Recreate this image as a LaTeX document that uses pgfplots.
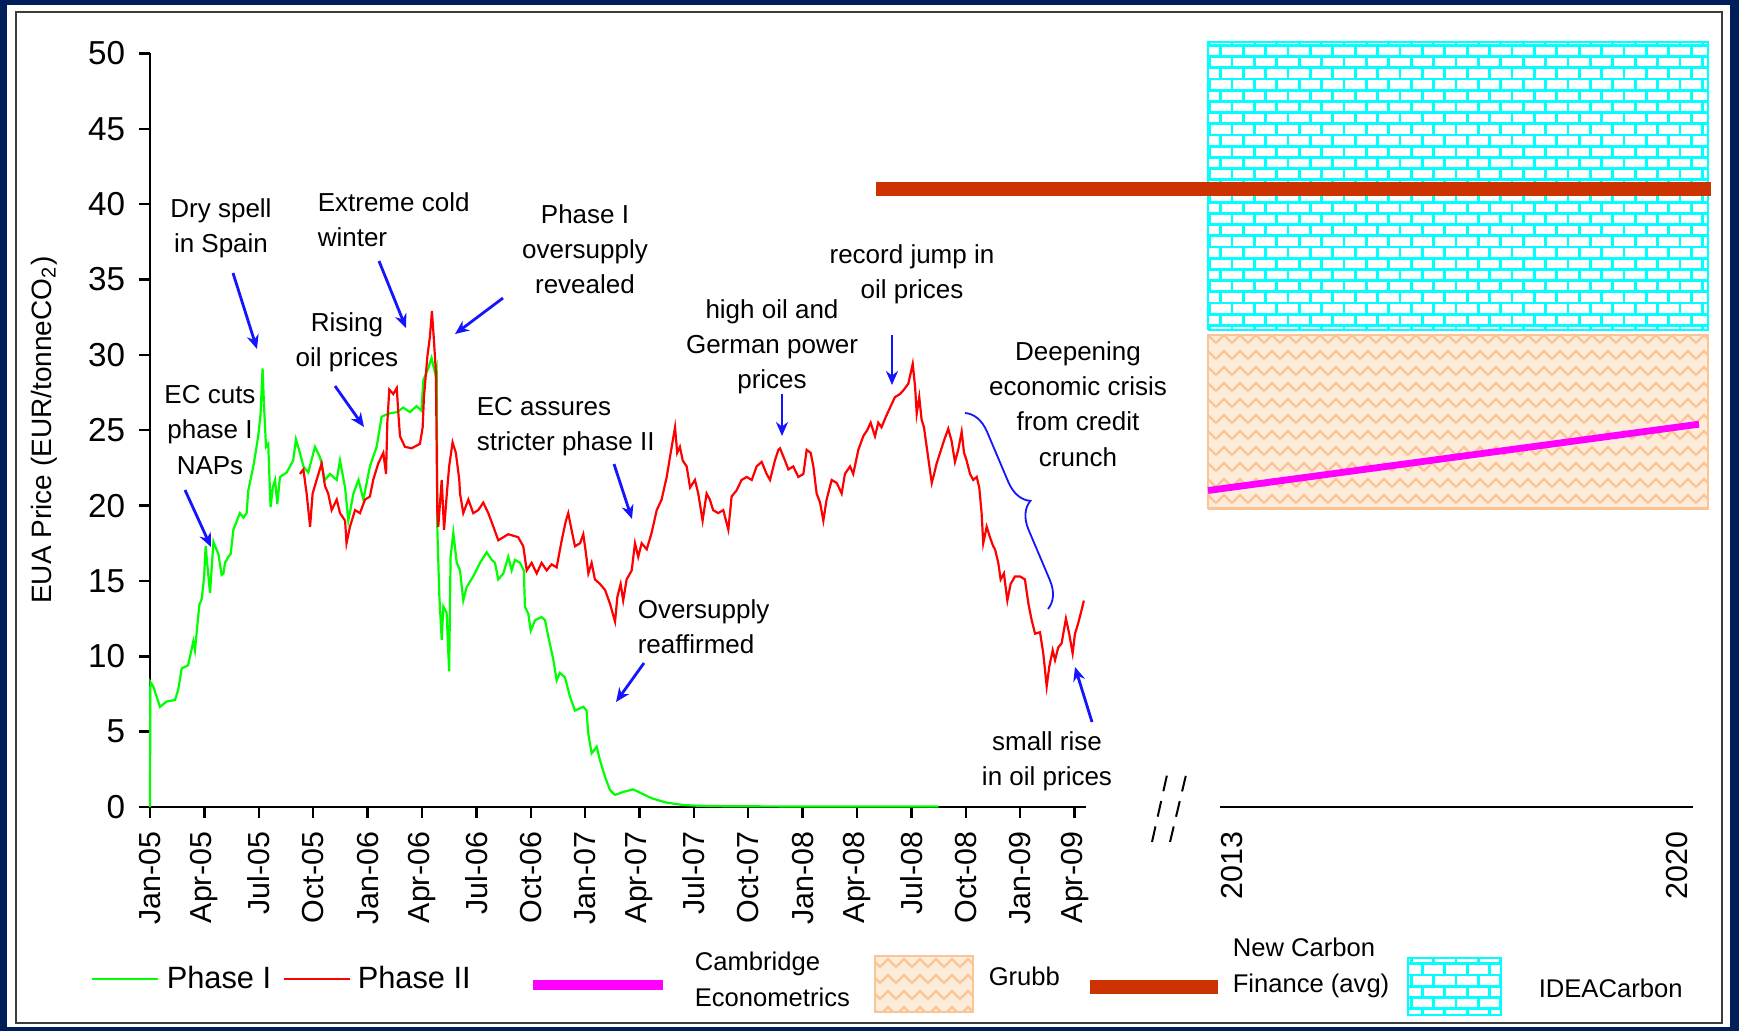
\documentclass[border=0pt]{standalone}
\usepackage{fontspec}
\setmainfont{Liberation Sans}
\usepackage{pgfplots}
\pgfplotsset{compat=1.18}
\usetikzlibrary{patterns,patterns.meta,arrows.meta,decorations.pathreplacing}

\definecolor{navy}{RGB}{0,30,90}
\definecolor{phaseI}{RGB}{0,255,0}
\definecolor{phaseII}{RGB}{255,0,0}
\definecolor{ncf}{RGB}{204,51,0}
\definecolor{annblue}{RGB}{20,20,255}
\definecolor{peachbg}{RGB}{254,236,218}
\definecolor{peachline}{RGB}{250,196,150}
\definecolor{framegray}{RGB}{60,60,60}
\definecolor{ideacyan}{RGB}{0,255,255}
\definecolor{cambmag}{RGB}{255,0,255}

\tikzdeclarepattern{
  name=ideabricks,
  type=uncolored,
  bounding box={(-0.6pt,-0.6pt) and (6.2pt,6.2pt)},
  tile size={(5.6pt,5.6pt)},
  code={
    \draw[line width=0.7pt] (-0.6pt,0pt) -- (6.2pt,0pt);
    \draw[line width=0.7pt] (-0.6pt,2.8pt) -- (6.2pt,2.8pt);
    \draw[line width=0.7pt] (0pt,0pt) -- (0pt,2.8pt);
    \draw[line width=0.7pt] (2.8pt,2.8pt) -- (2.8pt,5.6pt);
  }
}
\tikzdeclarepattern{
  name=grubbpat,
  type=uncolored,
  bounding box={(-0.5pt,-0.5pt) and (4.5pt,4.5pt)},
  tile size={(4pt,4pt)},
  code={
    \draw[line width=0.55pt] (0pt,0pt) -- (2pt,2pt) -- (4pt,0pt);
  }
}

\newcommand{\annot}{\fontsize{6.5}{8.8}\selectfont}
\newcommand{\legfont}{\fontsize{6.4}{9}\selectfont}

\begin{document}
\begin{tikzpicture}
\useasboundingbox (0pt,0pt) rectangle (434.75pt,-257.75pt);
\begin{scope}[x=0.25pt,y=-0.25pt]
  \fill[navy] (0,0) rectangle (1739,1031);
  \fill[white] (7,5) rectangle (1730,1027);
  \draw[framegray,line width=0.5pt] (16,12) rectangle (1722,1023);
\end{scope}

\begin{axis}[
  scale only axis,
  width=390.7pt, height=188.4pt,
  at={(37.5pt,-201.75pt)}, anchor=south west,
  xmin=0, xmax=86.2, ymin=0, ymax=50,
  clip=false,
  axis lines=left,
  axis line style={-, line width=0.6pt, black},
  x axis line style={draw=none},
  xtick={0,3,...,51},
  xticklabels={Jan-05,Apr-05,Jul-05,Oct-05,Jan-06,Apr-06,Jul-06,Oct-06,Jan-07,Apr-07,Jul-07,Oct-07,Jan-08,Apr-08,Jul-08,Oct-08,Jan-09,Apr-09},
  extra x ticks={59.7,84.2},
  extra x tick labels={2013,2020},
  extra x tick style={major tick style={draw=none}},
  ytick={0,5,...,50},
  tick align=outside,
  major tick length=2.7pt,
  tick style={black, line width=0.6pt},
  xticklabel style={font=\fontsize{7.6}{8}\selectfont, rotate=90, anchor=east},
  yticklabel style={font=\fontsize{8.3}{9}\selectfont},
  /pgf/number format/assume math mode=true,
  no markers,
]
% axis lines (broken x axis)
\draw[black, line width=0.6pt] (axis cs:0,0) -- (axis cs:51.63,0);
\draw[black, line width=0.6pt] (axis cs:59.0,0) -- (axis cs:85.1,0);

% Grubb range
\addplot[draw=none, fill=peachbg] coordinates {(58.36,19.8) (85.94,19.8) (85.94,31.3) (58.36,31.3) (58.36,19.8)};
\addplot[draw=peachline, line width=0.6pt, pattern=grubbpat, pattern color=peachline] coordinates {(58.36,19.8) (85.94,19.8) (85.94,31.3) (58.36,31.3) (58.36,19.8)};
% IDEACarbon range
\addplot[draw=ideacyan, line width=0.6pt, pattern=ideabricks, pattern color=ideacyan] coordinates {(58.36,31.65) (85.94,31.65) (85.94,50.76) (58.36,50.76) (58.36,31.65)};
% New Carbon Finance average
\addplot[ncf, line width=3.4pt] coordinates {(40.05,41.0) (86.1,41.0)};
% Cambridge Econometrics
\addplot[cambmag, line width=1.7pt] coordinates {(58.36,21.0) (85.44,25.4)};

% Phase I
\addplot[phaseI, line width=0.55pt] coordinates {
(0,0) (0.02,8.3) (0.18,8.0) (0.55,6.65) (0.92,7.0) (1.38,7.1) (1.56,7.8) (1.75,9.2) (2.1,9.4) (2.39,11.0) (2.48,10.4) (2.72,13.4) (2.85,13.8) (2.98,15.2) (3.07,17.3) (3.2,15.6) (3.31,14.2) (3.4,15.8) (3.5,17.6) (3.63,17.2) (3.77,16.8) (3.95,15.4) (4.05,15.5) (4.14,16.2) (4.32,16.6) (4.45,16.8) (4.6,18.4) (4.96,19.5) (5.15,19.2) (5.33,19.5) (5.42,21.0) (5.7,22.6) (5.97,24.6) (6.1,26.1) (6.21,29.1) (6.29,26.6) (6.4,23.9) (6.52,24.1) (6.65,19.9) (6.77,21.2) (6.9,21.7) (7.02,20.1) (7.17,21.9) (7.54,22.2) (7.9,23.0) (8.05,24.4) (8.27,23.5) (8.46,22.6) (8.73,22.2) (9.1,23.9) (9.38,23.2) (9.65,21.7) (9.93,22.1) (10.3,21.7) (10.48,23.0) (10.76,21.2) (10.94,19.0) (11.22,20.8) (11.5,21.7) (11.77,20.4) (12.13,22.6) (12.5,23.9) (12.78,25.9) (13.15,26.1) (13.6,26.2) (13.97,26.5) (14.34,26.2) (14.7,26.6) (14.98,26.3) (15.07,28.3) (15.35,29.1) (15.53,29.8) (15.72,28.8) (15.81,29.2) (15.85,18.4) (15.96,14.0) (16.09,11.1) (16.18,13.3) (16.36,12.9) (16.5,9.0) (16.58,16.6) (16.73,18.2) (16.92,16.2) (17.1,15.7) (17.28,13.7) (17.47,14.6) (17.83,15.3) (18.2,16.2) (18.57,16.9) (18.85,16.4) (19.03,16.2) (19.21,15.1) (19.49,15.5) (19.76,16.6) (19.95,15.7) (20.13,16.4) (20.41,16.2) (20.62,15.7) (20.68,13.3) (20.87,12.8) (21.0,11.7) (21.24,12.4) (21.6,12.6) (21.79,12.4) (21.97,11.3) (22.25,9.75) (22.43,8.4) (22.61,8.9) (22.89,8.6) (23.17,7.3) (23.44,6.4) (23.9,6.65) (24.08,6.4) (24.17,4.9) (24.36,3.56) (24.64,4.0) (24.82,3.1) (25.1,2.0) (25.37,1.13) (25.65,0.8) (26.1,1.0) (26.65,1.17) (27.12,0.9) (27.67,0.58) (28.5,0.29) (29.42,0.13) (30.3,0.08) (32,0.05) (35,0.04) (38,0.04) (41,0.03) (43.5,0.03)
};
% Phase II
\addplot[phaseII, line width=0.55pt] coordinates {
(8.27,22.1) (8.46,22.4) (8.64,20.8) (8.83,18.6) (8.97,20.8) (9.19,21.7) (9.47,22.8) (9.65,21.3) (9.83,20.8) (10.02,19.7) (10.3,20.4) (10.48,19.5) (10.76,19.0) (10.84,17.5) (11.03,18.6) (11.31,19.7) (11.58,19.5) (11.86,20.4) (12.13,20.6) (12.31,21.7) (12.59,22.8) (12.87,23.5) (13.02,22.1) (13.09,25.5) (13.2,27.7) (13.42,27.4) (13.61,27.8) (13.7,26.1) (13.79,24.6) (14.06,23.9) (14.43,23.8) (14.89,24.1) (15.04,25.2) (15.11,27.2) (15.3,29.9) (15.44,31.2) (15.55,32.9) (15.66,31.0) (15.77,28.8) (15.85,19.5) (15.9,18.6) (16.09,21.7) (16.22,18.4) (16.36,20.6) (16.5,22.6) (16.69,24.2) (16.87,23.5) (17.06,21.7) (17.1,20.8) (17.28,19.5) (17.56,20.4) (17.83,19.5) (18.11,19.7) (18.38,20.2) (18.66,19.5) (18.94,18.6) (19.21,17.7) (19.49,17.9) (19.76,18.1) (20.04,18.0) (20.31,17.9) (20.59,17.3) (20.78,15.7) (21.05,16.2) (21.33,15.5) (21.6,16.2) (21.88,15.7) (22.15,16.1) (22.43,15.9) (22.71,17.7) (22.94,19.0) (23.07,19.5) (23.25,18.4) (23.44,17.3) (23.72,17.5) (23.9,18.1) (24.05,16.8) (24.18,15.5) (24.36,16.2) (24.54,15.1) (24.82,14.8) (25.1,14.4) (25.37,13.5) (25.65,12.3) (25.78,13.95) (25.96,14.8) (26.1,13.7) (26.29,15.1) (26.57,15.7) (26.75,17.5) (26.93,16.6) (27.12,17.5) (27.4,17.1) (27.67,18.2) (27.95,19.7) (28.22,20.4) (28.5,21.9) (28.72,23.5) (28.96,25.2) (29.08,23.5) (29.23,23.9) (29.38,23.0) (29.6,22.6) (29.79,21.2) (30.06,21.7) (30.24,20.8) (30.48,19.0) (30.7,20.8) (30.88,20.4) (31.06,19.7) (31.34,19.5) (31.62,19.7) (31.9,18.4) (32.08,20.6) (32.35,21.0) (32.63,21.7) (32.91,21.9) (33.19,21.7) (33.46,22.6) (33.74,22.9) (34.01,22.1) (34.2,21.7) (34.47,23.0) (34.66,23.7) (34.75,23.8) (35.02,23.0) (35.21,22.4) (35.48,22.6) (35.76,21.9) (36.04,22.1) (36.22,23.7) (36.44,23.5) (36.59,22.6) (36.77,20.8) (36.96,20.2) (37.14,19.0) (37.32,20.4) (37.6,21.7) (37.88,21.5) (38.15,20.8) (38.33,22.1) (38.61,22.6) (38.79,22.1) (39.07,23.7) (39.34,24.6) (39.56,25.0) (39.75,25.5) (39.99,24.6) (40.17,25.5) (40.35,25.2) (40.59,25.9) (40.82,26.5) (41.09,27.2) (41.37,27.4) (41.59,27.7) (41.83,28.1) (42.07,29.4) (42.2,27.9) (42.29,26.1) (42.43,27.2) (42.56,25.7) (42.69,25.2) (42.84,23.9) (42.99,22.6) (43.12,21.5) (43.25,22.1) (43.39,22.8) (43.58,23.5) (43.79,24.3) (44.03,25.1) (44.21,24.3) (44.4,22.9) (44.58,23.7) (44.77,24.9) (44.9,23.5) (45.04,23.0) (45.23,22.1) (45.41,21.7) (45.6,21.9) (45.74,21.2) (45.87,19.5) (45.96,17.5) (46.15,18.6) (46.33,17.9) (46.51,17.3) (46.61,17.1) (46.79,16.2) (46.92,15.1) (47.1,15.5) (47.29,13.7) (47.47,14.8) (47.71,15.3) (47.99,15.3) (48.26,15.1) (48.45,13.5) (48.63,12.4) (48.82,11.5) (49.09,11.6) (49.27,10.2) (49.46,8.0) (49.6,9.3) (49.79,10.4) (49.92,9.75) (50.1,10.6) (50.28,10.85) (50.52,12.5) (50.7,11.5) (50.89,10.2) (51.02,11.5) (51.2,12.2) (51.39,13.1) (51.51,13.7)
};
\end{axis}

\begin{scope}[x=0.25pt,y=-0.25pt]
  % y label
  \node[rotate=90, font=\fontsize{7}{8}\selectfont, inner sep=0pt] at (44,430) {EUA Price (EUR/tonneCO\textsubscript{2})};

  % annotations
  \node[font=\annot, align=center, inner sep=0pt] at (221,228) {Dry spell\\in Spain};
  \node[font=\annot, align=left, anchor=west, inner sep=0pt] at (317,220) {Extreme cold\\winter};
  \node[font=\annot, align=center, inner sep=0pt] at (585,249) {Phase I\\oversupply\\revealed};
  \node[font=\annot, align=center, inner sep=0pt] at (347,342) {Rising\\oil prices};
  \node[font=\annot, align=center, inner sep=0pt] at (210,430) {EC cuts\\phase I\\NAPs};
  \node[font=\annot, align=left, anchor=west, inner sep=0pt] at (476,427) {EC assures\\stricter phase II};
  \node[font=\annot, align=left, anchor=west, inner sep=0pt] at (637,627) {Oversupply\\reaffirmed};
  \node[font=\annot, align=center, inner sep=0pt] at (772,347) {high oil and\\German power\\prices};
  \node[font=\annot, align=center, inner sep=0pt] at (912,274) {record jump in\\oil prices};
  \node[font=\annot, align=center, inner sep=0pt] at (1078,404) {Deepening\\economic crisis\\from credit\\crunch};
  \node[font=\annot, align=center, inner sep=0pt] at (1047,761) {small rise\\in oil prices};

  % arrows
  \begin{scope}[annblue, line width=0.7pt, -{Stealth[length=3.5pt,width=3pt]}]
    \draw (233,273) -- (257,349);
    \draw (379,261) -- (406,328);
    \draw (503,298) -- (455,334);
    \draw (335,386) -- (364,427);
    \draw (185,490) -- (211,547);
    \draw (614,464) -- (632,519);
    \draw (644,663) -- (616,702);
    \draw (782,394) -- (782,436);
    \draw (892,335) -- (892,385);
    \draw (1092,722) -- (1075,667);
  \end{scope}
  % brace
  \draw[annblue, line width=0.45pt, decorate, decoration={brace, amplitude=6.5pt}] (965,413) -- (1048,609);

  % axis break marks
  \draw[black, line width=0.5pt, dash pattern=on 4pt off 2.5pt] (1152,842) -- (1167,775);
  \draw[black, line width=0.5pt, dash pattern=on 4pt off 2.5pt] (1170,842) -- (1186,775);

  % legend
  \draw[phaseI, line width=0.6pt] (92,979) -- (158,979);
  \node[font=\fontsize{7.7}{9}\selectfont, anchor=west, inner sep=0pt] at (166,977) {Phase I};
  \draw[phaseII, line width=0.6pt] (284,979) -- (350,979);
  \node[font=\fontsize{7.7}{9}\selectfont, anchor=west, inner sep=0pt] at (357,977) {Phase II};
  \draw[cambmag, line width=2.3pt] (533,985) -- (663,985);
  \node[font=\legfont, align=left, anchor=west, inner sep=0pt] at (694,979) {Cambridge\\Econometrics};
  \fill[peachbg] (875,956) rectangle (973,1012);
  \draw[peachline, line width=0.6pt, pattern=grubbpat, pattern color=peachline] (875,956) rectangle (973,1012);
  \node[font=\legfont, anchor=west, inner sep=0pt] at (988,976) {Grubb};
  \draw[ncf, line width=3.3pt] (1090,987) -- (1218,987);
  \node[font=\legfont, align=left, anchor=west, inner sep=0pt] at (1232,968) {New Carbon\\Finance (avg)};
  \draw[ideacyan, line width=0.6pt, pattern=ideabricks, pattern color=ideacyan] (1408,958) rectangle (1501,1015);
  \node[font=\legfont, anchor=west, inner sep=0pt] at (1538,988) {IDEACarbon};
\end{scope}
\end{tikzpicture}
\end{document}
